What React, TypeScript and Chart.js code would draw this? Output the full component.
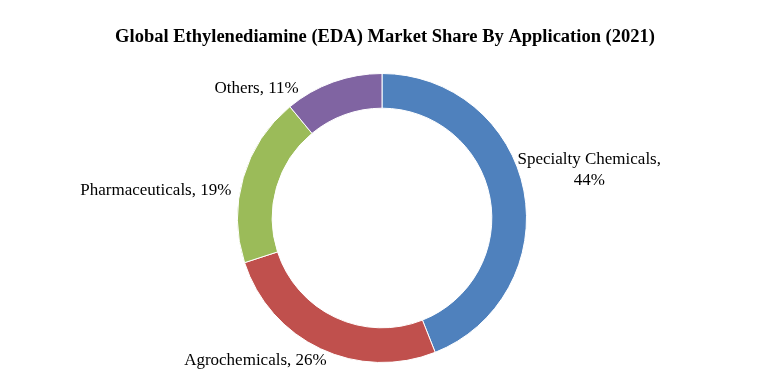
import React, { useEffect, useRef } from "react";
import { Chart, registerables } from "chart.js";

Chart.register(...registerables);

const TITLE = "Global Ethylenediamine (EDA) Market Share By Application (2021)";
const categories = ["Specialty Chemicals", "Agrochemicals", "Pharmaceuticals", "Others"];
const shares = [44, 26, 19, 11];
const colors = ["#4F81BD", "#C0504D", "#9BBB59", "#8064A2"];
// label line breaks per category
const labelLines: string[][] = [
  ["Specialty Chemicals,", "44%"],
  ["Agrochemicals, 26%"],
  ["Pharmaceuticals, 19%"],
  ["Others, 11%"],
];

// label anchor offsets relative to doughnut centre, in units of outer radius
const labelOffsets: [number, number][] = [
  [1.434, -0.33],
  [-0.876, 0.986],
  [-1.565, -0.19],
  [-0.868, -0.897],
];

const FONT = "'Liberation Serif', 'Times New Roman', serif";

const labelPlugin = {
  id: "sliceLabels",
  afterDraw(chart: any) {
    const ctx = chart.ctx;
    const meta = chart.getDatasetMeta(0);
    ctx.save();
    // title
    ctx.fillStyle = "#000";
    ctx.font = `bold 18.5px ${FONT}`;
    ctx.textAlign = "center";
    ctx.textBaseline = "middle";
    ctx.fillText(TITLE, chart.width / 2 - 5.5, 37);
    ctx.font = `17px ${FONT}`;
    meta.data.forEach((arc: any, i: number) => {
      const { x, y, outerRadius } = arc.getProps(["x", "y", "outerRadius"], true);
      const lx = x + labelOffsets[i][0] * outerRadius;
      const ly = y + labelOffsets[i][1] * outerRadius;
      const lines = labelLines[i];
      const lh = 21;
      lines.forEach((ln, k) => {
        ctx.fillText(ln, lx, ly + (k - (lines.length - 1) / 2) * lh);
      });
    });
    ctx.restore();
  },
};

export default function App() {
  const ref = useRef<HTMLCanvasElement>(null);
  useEffect(() => {
    const chart = new Chart(ref.current!, {
      type: "doughnut",
      data: {
        labels: categories,
        datasets: [
          {
            data: shares,
            backgroundColor: colors,
            borderColor: "#ffffff",
            borderWidth: 1,
          },
        ],
      },
      options: {
        responsive: false,
        animation: false,
        cutout: "76%",
        layout: { padding: { top: 73, bottom: 26, left: 237, right: 254 } },
        plugins: {
          legend: { display: false },
          title: { display: false },
          tooltip: { enabled: false },
        },
      },
      plugins: [labelPlugin],
    });
    return () => chart.destroy();
  }, []);
  return (
    <div style={{ position: "fixed", left: 0, top: 0, width: 781, height: 389, background: "#fff" }}>
      <canvas ref={ref} width={781} height={389} style={{ width: 781, height: 389 }} />
    </div>
  );
}
